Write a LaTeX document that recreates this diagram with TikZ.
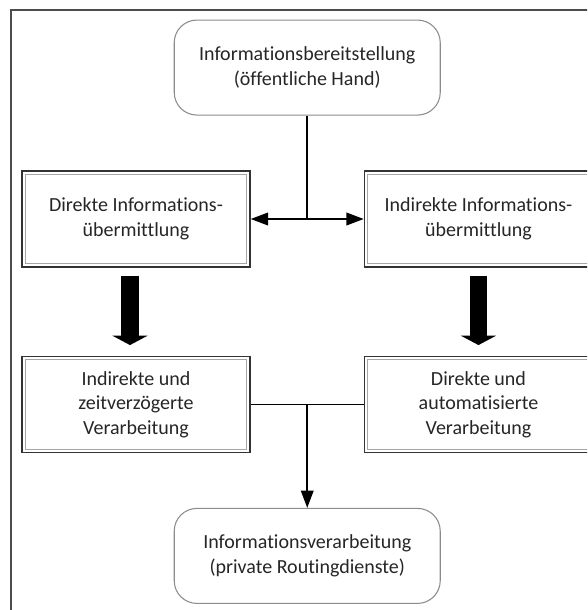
\documentclass[tikz,border=0pt]{standalone}
\usepackage{fontspec}
\setmainfont{Carlito}[Ligatures=NoCommon]
\usepackage{tikz}
\usetikzlibrary{positioning,arrows.meta,calc}

\begin{document}
\begin{tikzpicture}[
  x=0.75pt, y=-0.75pt,
  node distance=66pt and 84.75pt,
  stage/.style={draw=black!45, line width=0.8pt, rounded corners=17pt, align=center,
                minimum width=199.5pt, minimum height=71.25pt, fill=white,
                font=\fontsize{15}{18.5}\selectfont, text=black!85},
  step box/.style={draw=black!80, line width=1.1pt, align=center, fill=white,
                minimum width=171pt, minimum height=72pt,
                font=\fontsize{15}{18.5}\selectfont, text=black!85,
                path picture={\draw[black!35, line width=0.8pt]
                  ([shift={(2.3pt,-2.3pt)}]path picture bounding box.north west) rectangle
                  ([shift={(-2.3pt,2.3pt)}]path picture bounding box.south east);}},
  line/.style={line width=1.2pt, black},
  arr/.style={line, -{Triangle[length=13pt, width=9.5pt]}},
  block/.style={line width=13pt, black, -{Triangle[length=7pt, width=26pt]},
                shorten <=6pt, shorten >=8pt}
]
\useasboundingbox (0,0) rectangle (587,610);
\clip (0,0) rectangle (587,610);
% frame
\draw[black!70, line width=1.5pt] (11,640) |- (620,10);
% information paths
\node[step box] (dirinfo) at (136,219) {Direkte Informations-\\übermittlung};
\node[step box, right=of dirinfo] (indinfo) {Indirekte Informations-\\übermittlung};
% processing
\node[step box, below=of dirinfo] (dirproc) {Indirekte und\\zeitverzögerte\\Verarbeitung};
\node[step box, below=of indinfo] (autoproc) {Direkte und\\automatisierte\\Verarbeitung};
% provider and consumer
\node[stage, above=41pt of $(dirinfo.north)!0.5!(indinfo.north)$] (src)
  {Informationsbereitstellung\\(öffentliche Hand)};
\node[stage, below=41pt of $(dirproc.south)!0.5!(autoproc.south)$] (dest)
  {Informationsverarbeitung\\(private Routingdienste)};

% split from the provider
\coordinate (fork) at (src.south |- dirinfo.east);
\draw[line] (src.south) -- (fork);
\draw[arr] (fork) -- (dirinfo.east);
\draw[arr] (fork) -- (indinfo.west);
% block arrows down to processing
\draw[block] ([xshift=-4.5pt]dirinfo.south) -- ([xshift=-4.5pt]dirproc.north);
\draw[block] (indinfo.south) -- (autoproc.north);
% merge into the consumer
\coordinate (merge) at (dest.north |- dirproc.east);
\draw[line] (dirproc.east) -- (autoproc.west);
\draw[arr] (merge) -- (dest.north);
\end{tikzpicture}
\end{document}
